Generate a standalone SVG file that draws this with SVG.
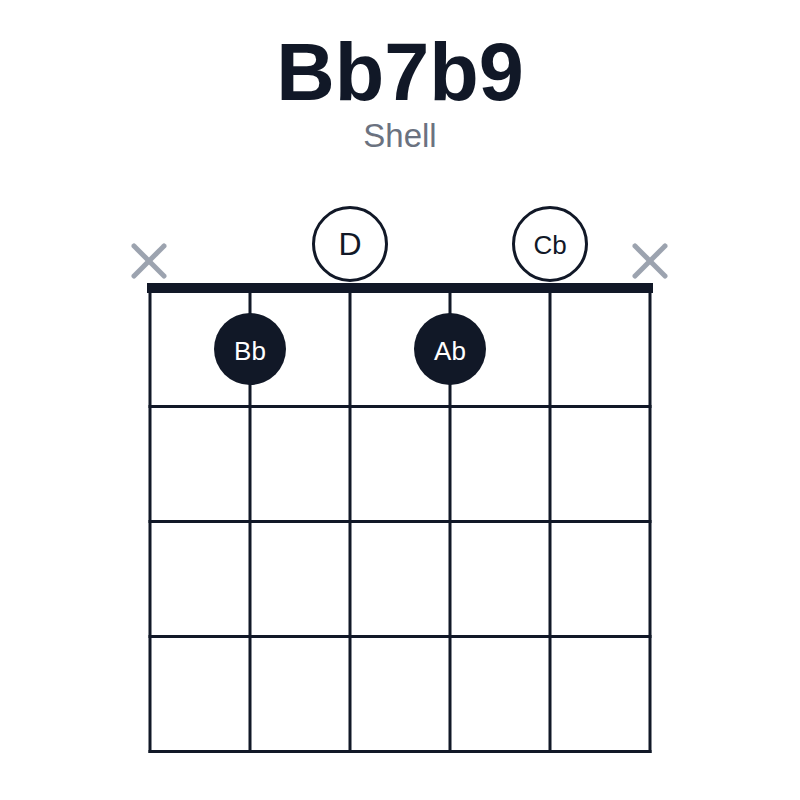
<svg xmlns="http://www.w3.org/2000/svg" width="800" height="800" viewBox="0 0 800 800">
<style>
  .grid line { stroke: #111827; stroke-width: 3; }
  .mute line { stroke: #9ca3af; stroke-width: 5; stroke-linecap: round; }
  .open circle { fill: #ffffff; stroke: #111827; stroke-width: 3; }
  .fret circle { fill: #111827; }
  .lbl { font-family: "Liberation Sans", Arial, Helvetica, sans-serif; text-anchor: middle; dominant-baseline: central; }
  .open text { fill: #111827; }
  .fret text { fill: #ffffff; }
</style>
<rect width="800" height="800" fill="#ffffff"/>
<g id="title">
  <text x="400" y="100" font-family="Liberation Sans, Arial, sans-serif" font-weight="bold" font-size="81" fill="#111827" text-anchor="middle">Bb7b9</text>
  <text x="400" y="147" font-family="Liberation Sans, Arial, sans-serif" font-size="33" fill="#6b7280" text-anchor="middle">Shell</text>
</g>
<g id="grid" class="grid">
  <line x1="150" y1="288" x2="150" y2="753"/>
  <line x1="250" y1="288" x2="250" y2="753"/>
  <line x1="350" y1="288" x2="350" y2="753"/>
  <line x1="450" y1="288" x2="450" y2="753"/>
  <line x1="550" y1="288" x2="550" y2="753"/>
  <line x1="650" y1="288" x2="650" y2="753"/>
  <line x1="148.5" y1="406.5" x2="651.5" y2="406.5"/>
  <line x1="148.5" y1="521.5" x2="651.5" y2="521.5"/>
  <line x1="148.5" y1="636.5" x2="651.5" y2="636.5"/>
  <line x1="148.5" y1="751.5" x2="651.5" y2="751.5"/>
  <rect x="147" y="283" width="506" height="10" fill="#111827"/>
</g>
<g id="mute-1" class="mute">
  <line x1="134" y1="246" x2="164" y2="276"/>
  <line x1="164" y1="246" x2="134" y2="276"/>
</g>
<g id="mute-6" class="mute">
  <line x1="635" y1="246" x2="665" y2="276"/>
  <line x1="665" y1="246" x2="635" y2="276"/>
</g>
<g id="open-D" class="open">
  <circle cx="350" cy="244" r="36.5"/>
  <text class="lbl" x="350" y="244" font-size="32">D</text>
</g>
<g id="open-Cb" class="open">
  <circle cx="550" cy="244" r="36.5"/>
  <text class="lbl" x="550" y="245" font-size="26">Cb</text>
</g>
<g id="dot-Bb" class="fret">
  <circle cx="250" cy="349" r="36"/>
  <text class="lbl" x="250" y="351" font-size="26">Bb</text>
</g>
<g id="dot-Ab" class="fret">
  <circle cx="450" cy="349" r="36"/>
  <text class="lbl" x="450" y="351" font-size="26">Ab</text>
</g>
</svg>
